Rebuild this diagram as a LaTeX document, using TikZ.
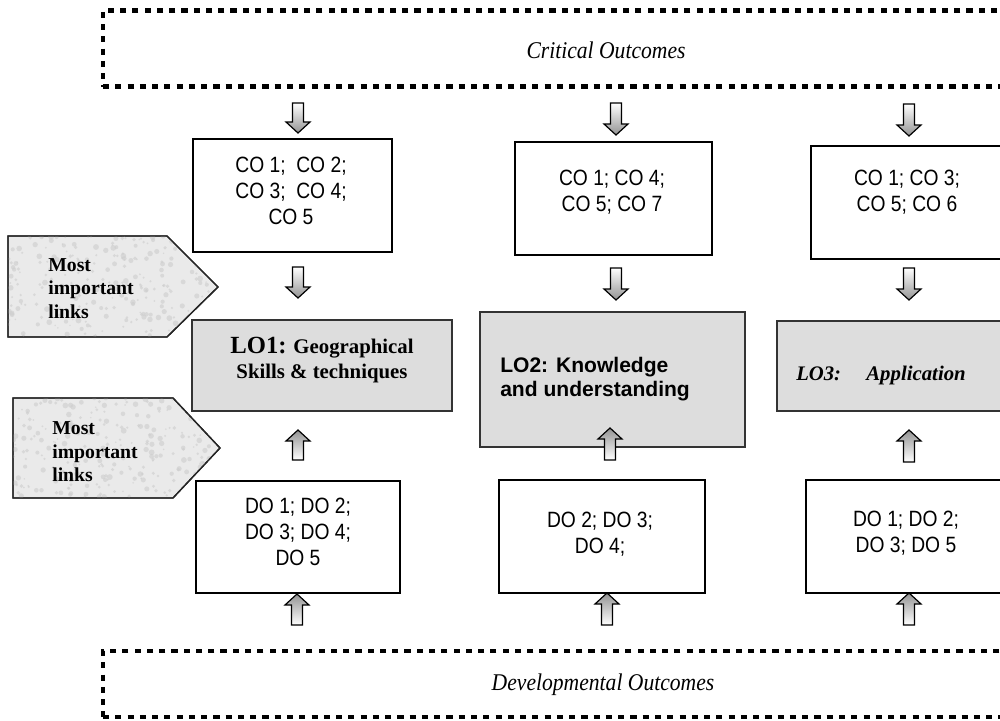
\documentclass[tikz,border=0pt]{standalone}
\usepackage{fontspec}
\setmainfont{Liberation Serif}
\newfontfamily\cofont[FakeStretch=0.87]{Liberation Sans}
\newfontfamily\lofont{Liberation Sans}
\newfontfamily\outfont[FakeStretch=0.9]{Liberation Serif}
\usetikzlibrary{fit}
\definecolor{lofill}{RGB}{221,221,221}
\definecolor{linkfill}{RGB}{234,234,234}
\definecolor{speck}{RGB}{205,205,205}
\newcommand\arrDown[3]{\shade[blockarr, top color=white, bottom color=gray!85] ({#1-5.5},#2) -- ({#1+5.5},#2) -- ({#1+5.5},{#3-11}) -- ({#1+12},{#3-11}) -- (#1,#3) -- ({#1-12},{#3-11}) -- ({#1-5.5},{#3-11}) -- cycle;}
\newcommand\arrUp[3]{\shade[blockarr, top color=gray!85, bottom color=white] (#1,#2) -- ({#1+12},{#2+11}) -- ({#1+5.5},{#2+11}) -- ({#1+5.5},#3) -- ({#1-5.5},#3) -- ({#1-5.5},{#2+11}) -- ({#1-12},{#2+11}) -- cycle;}
\begin{document}
\begin{tikzpicture}[x=0.75pt,y=-0.75pt,
  outerbox/.style={draw=black, line width=3.4pt, dash pattern=on 4.6pt off 4.6pt, inner sep=0pt},
  cobox/.style={draw=black, line width=1pt, fill=white, inner sep=0pt},
  lobox/.style={draw=black!80, line width=1pt, fill=lofill, inner sep=0pt},
  blockarr/.style={draw=black, line width=0.9pt, line join=miter},
  linkshape/.style={draw=black!85, line width=1pt, fill=linkfill},
  cotext/.style={font=\cofont\fontsize{16.6}{19.5}\selectfont, align=center, inner sep=0pt},
  outtext/.style={font=\outfont\itshape\fontsize{18}{20}\selectfont, inner sep=0pt},
  linktext/.style={font=\bfseries\fontsize{14.8}{17.6}\selectfont, align=left, anchor=west, inner sep=0pt}]
\useasboundingbox (0,0) rectangle (1000,721);

% outer dashed boxes
\node[outerbox, fit={(103,10.5) (1015,86.5)}] (crit) {};
\node[outtext] (critt) at (606,50) {Critical Outcomes};
\node[outerbox, fit={(103,651) (1015,717)}] (dev) {};
\node[outtext] (devt) at (603,685) {Developmental Outcomes};

% link shapes
\begin{scope}
\path[linkshape] (8,236) -- (167,236) -- (218,287) -- (167,337) -- (8,337) -- cycle;
\clip (8,236) -- (167,236) -- (218,287) -- (167,337) -- (8,337) -- cycle;
\pgfmathsetseed{11}
\foreach \i in {1,...,260}{
  \pgfmathsetmacro\px{8+210*rnd}
  \pgfmathsetmacro\py{236+101*rnd}
  \pgfmathsetmacro\pr{0.6+1.6*rnd}
  \fill[speck, opacity=0.6] (\px,\py) circle[radius=\pr pt];
}
\end{scope}
\draw[linkshape, fill=none] (8,236) -- (167,236) -- (218,287) -- (167,337) -- (8,337) -- cycle;
\begin{scope}
\path[linkshape] (13,398) -- (173,398) -- (220,448) -- (173,498) -- (13,498) -- cycle;
\clip (13,398) -- (173,398) -- (220,448) -- (173,498) -- (13,498) -- cycle;
\pgfmathsetseed{23}
\foreach \i in {1,...,260}{
  \pgfmathsetmacro\px{13+207*rnd}
  \pgfmathsetmacro\py{398+100*rnd}
  \pgfmathsetmacro\pr{0.6+1.6*rnd}
  \fill[speck, opacity=0.6] (\px,\py) circle[radius=\pr pt];
}
\end{scope}
\draw[linkshape, fill=none] (13,398) -- (173,398) -- (220,448) -- (173,498) -- (13,498) -- cycle;
\node[linktext] (link1) at (48,288.5) {Most\\important\\links};
\node[linktext] (link2) at (52,452) {Most\\important\\links};

% column 1
\node[cobox, fit={(193,139) (392,252)}] (co1) {};
\node[cotext] (co1t) at (291,191) {CO 1;\ \ CO 2;\\CO 3;\ \ CO 4;\\CO 5};
\node[lobox, fit={(192,320) (452,411)}] (lo1) {};
\node[font=\bfseries\fontsize{15.6}{18.5}\selectfont, align=center, inner sep=0pt] (lo1t) at (322,360)
  {{\fontsize{18.5}{18.5}\selectfont LO1:} Geographical\\Skills \& techniques};
\node[cobox, fit={(196,481) (400,593)}] (do1) {};
\node[cotext] (do1t) at (298,532) {DO 1; DO 2;\\DO 3; DO 4;\\DO 5};

% column 2
\node[cobox, fit={(515,142) (712,255)}] (co2) {};
\node[cotext] (co2t) at (612,192.5) {CO 1; CO 4;\\CO 5; CO 7};
\node[lobox, fit={(480,312) (745,447)}] (lo2) {};
\node[font=\lofont\bfseries\fontsize{15.8}{17.5}\selectfont, align=left, anchor=west, inner sep=0pt] (lo2t) at (500,379)
  {LO2: Knowledge\\and understanding};
\node[cobox, fit={(499,480) (705,593)}] (do2) {};
\node[cotext] (do2t) at (600,534.5) {DO 2; DO 3;\\DO 4;};

% column 3
\node[cobox, fit={(811,146) (1004,259)}] (co3) {};
\node[cotext] (co3t) at (907,192) {CO 1; CO 3;\\CO 5; CO 6};
\node[lobox, fit={(777,321) (1010,411)}] (lo3) {};
\node[font=\bfseries\itshape, anchor=west, inner sep=0pt] (lo3t) at (796,375)
  {{\fontsize{15.5}{20}\selectfont LO3:}\hspace{19pt}{\fontsize{15.6}{20}\selectfont Application}};
\node[cobox, fit={(806,480) (1004,593)}] (do3) {};
\node[cotext] (do3t) at (906,533.5) {DO 1; DO 2;\\DO 3; DO 5};

% block arrows
\arrDown{298}{103}{133}
\arrDown{298}{267}{298}
\arrUp{298}{430}{460}
\arrUp{297}{594}{625}
\arrDown{616}{103}{135}
\arrDown{616}{268}{300}
\arrUp{610}{428}{460}
\arrUp{607}{593}{625}
\arrDown{909}{104}{136}
\arrDown{909}{268}{300}
\arrUp{909}{430}{462}
\arrUp{909}{593}{625}
\end{tikzpicture}
\end{document}
